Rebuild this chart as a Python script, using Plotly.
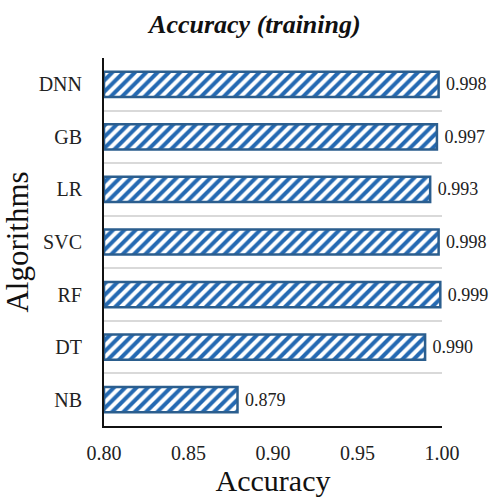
import plotly.graph_objects as go

algorithms = ["NB", "DT", "RF", "SVC", "LR", "GB", "DNN"]
accuracy = [0.879, 0.990, 0.999, 0.998, 0.993, 0.997, 0.998]
x_ticks = [0.80, 0.85, 0.90, 0.95, 1.00]
x_start = 0.8

serif = "Liberation Serif, DejaVu Serif, serif"

fig = go.Figure(go.Bar(
    x=[v - x_start for v in accuracy], y=algorithms, orientation="h",
    base=x_start,
    width=0.48,
    marker=dict(
        color="white",
        line=dict(color="#2B5E8E", width=2.5),
        pattern=dict(shape="/", fgcolor="#2469B2", bgcolor="white", size=8, solidity=0.5,
                     fgopacity=1),
    ),
    text=["\u00a0" + f"{v:.3f}" for v in accuracy],
    textposition="outside",
    constraintext="none",
    textfont=dict(family=serif, size=18, color="#222"),
    cliponaxis=False,
))

fig.update_layout(
    width=492, height=499,
    margin=dict(l=104, r=50, t=58, b=73),
    plot_bgcolor="white", paper_bgcolor="white",
    showlegend=False,
    title=dict(text="Accuracy (training)", x=0.518, xanchor="center", y=0.952, yanchor="middle",
               font=dict(family=serif, size=26, color="#111", style="italic", weight="bold")),
    xaxis=dict(range=[0.8, 1.0], tickvals=x_ticks, ticktext=[f"{t:.2f}" for t in x_ticks],
               showgrid=False, zeroline=False, showline=True, linecolor="#111", linewidth=2,
               ticks="", ticklabelstandoff=8, tickfont=dict(family=serif, size=20, color="#222"),
               automargin=False,
               title=dict(text="Accuracy", font=dict(family=serif, size=30, color="#111"), standoff=4)),
    yaxis=dict(categoryorder="array", categoryarray=algorithms, tickson="boundaries",
               showgrid=True, gridcolor="#D9D9D9", gridwidth=2, showline=True, linecolor="#111",
               linewidth=2, ticks="", ticklabelstandoff=16, automargin=False,
               tickfont=dict(family=serif, size=20, color="#222"),
               title=dict(text="Algorithms", font=dict(family=serif, size=31, color="#111"), standoff=6)),
)
fig.write_html("out.html")
